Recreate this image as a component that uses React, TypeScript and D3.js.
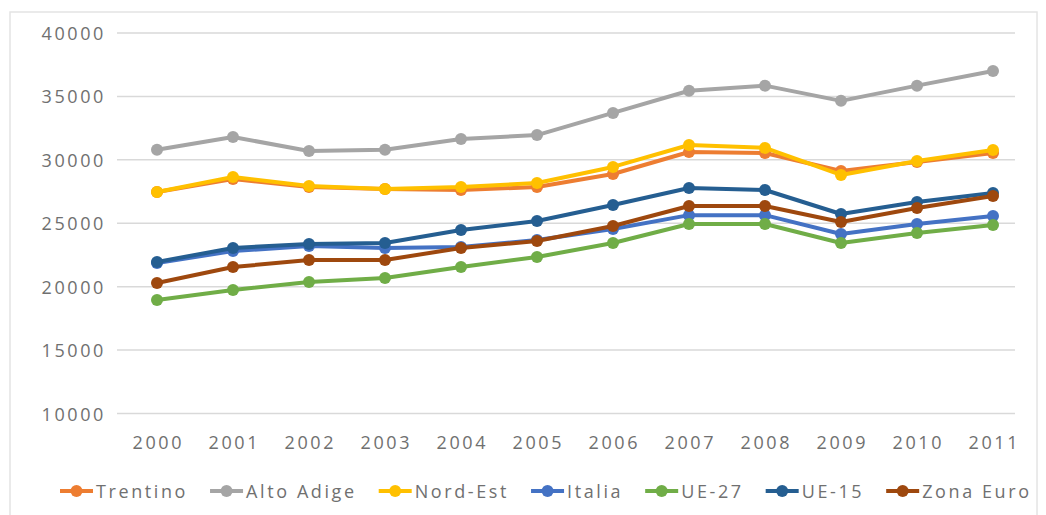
import React from "react";
import * as d3 from "d3";

const years = ["2000","2001","2002","2003","2004","2005","2006","2007","2008","2009","2010","2011"];
const yTicks = [10000, 15000, 20000, 25000, 30000, 35000, 40000];

const trentino = [27470, 28490, 27860, 27700, 27620, 27860, 28880, 30620, 30540, 29120, 29830, 30540];
const altoAdige = [30800, 31800, 30700, 30800, 31650, 31950, 33700, 35450, 35850, 34650, 35850, 37000];
const nordEst = [27470, 28650, 27940, 27700, 27860, 28170, 29440, 31170, 30940, 28810, 29910, 30780];
const italia = [21870, 22810, 23210, 23050, 23130, 23680, 24540, 25640, 25640, 24150, 24940, 25570];
const ue27 = [18950, 19740, 20370, 20680, 21550, 22340, 23440, 24940, 24940, 23440, 24230, 24860];
const ue15 = [21950, 23050, 23370, 23440, 24470, 25180, 26440, 27780, 27620, 25730, 26680, 27390];
const zonaEuro = [20290, 21550, 22100, 22100, 23050, 23600, 24780, 26360, 26360, 25100, 26200, 27150];

const seriesNames = ["Trentino", "Alto Adige", "Nord-Est", "Italia", "UE-27", "UE-15", "Zona Euro"];
const seriesValues = [trentino, altoAdige, nordEst, italia, ue27, ue15, zonaEuro];
const seriesColors = ["#ED7D31", "#A5A5A5", "#FFC000", "#4472C4", "#70AD47", "#255E91", "#9E480E"];

const W = 1046;
const H = 515;
const FONT = "Open Sans, DejaVu Sans, sans-serif";
const FS = 18;
const LS = 2.6;
const TEXT_COLOR = "#707070";

function measure(text: string): number {
  if (typeof document === "undefined") return text.length * 12;
  const c = document.createElement("canvas");
  const ctx = c.getContext("2d");
  if (!ctx) return text.length * 12;
  ctx.font = `${FS}px "Open Sans"`;
  return ctx.measureText(text).width + LS * text.length;
}

export default function App() {
  const x = d3.scalePoint<string>().domain(years).range([157, 993]);
  const y = d3.scaleLinear().domain([10000, 40000]).range([413.5, 33]);
  const gridX0 = 117;
  const gridX1 = 1015;
  const line = d3.line<number>().x((_, i) => x(years[i]) as number).y((d) => y(d));

  let cursor = 60;
  const legendY = 491;
  const legendItems = seriesNames.map((name, i) => {
    const lx0 = cursor;
    const lx1 = cursor + 33;
    const tx = lx1 + 3;
    const tw = measure(name);
    cursor = tx + tw + 22;
    return { name, color: seriesColors[i], lx0, lx1, tx };
  });

  return (
    <div style={{ position: "absolute", left: 0, top: 0 }}>
      <svg width={W} height={H} style={{ display: "block", background: "#fff" }}>
        <rect x={10} y={12} width={1027} height={510} fill="#fff" stroke="#e4e4e4" strokeWidth={1.5} />
        {yTicks.map((t) => (
          <g key={t}>
            <line x1={gridX0} x2={gridX1} y1={y(t)} y2={y(t)} stroke="#d9d9d9" strokeWidth={1.5} />
            <text
              x={106}
              y={y(t)}
              textAnchor="end"
              dominantBaseline="central"
              fontFamily={FONT}
              fontSize={FS}
              letterSpacing={LS}
              fill={TEXT_COLOR}
            >
              {t}
            </text>
          </g>
        ))}
        {years.map((yr) => (
          <text
            key={yr}
            x={(x(yr) as number) + LS / 2}
            y={442}
            textAnchor="middle"
            dominantBaseline="central"
            fontFamily={FONT}
            fontSize={FS}
            letterSpacing={LS}
            fill={TEXT_COLOR}
          >
            {yr}
          </text>
        ))}
        {seriesValues.map((vals, si) => (
          <g key={seriesNames[si]}>
            <path d={line(vals) || ""} fill="none" stroke={seriesColors[si]} strokeWidth={4} strokeLinejoin="round" />
            {vals.map((v, i) => (
              <circle key={i} cx={x(years[i])} cy={y(v)} r={6} fill={seriesColors[si]} />
            ))}
          </g>
        ))}
        {legendItems.map((it) => (
          <g key={it.name}>
            <line x1={it.lx0} x2={it.lx1} y1={legendY} y2={legendY} stroke={it.color} strokeWidth={4} />
            <circle cx={(it.lx0 + it.lx1) / 2} cy={legendY} r={6} fill={it.color} />
            <text
              x={it.tx}
              y={legendY}
              dominantBaseline="central"
              fontFamily={FONT}
              fontSize={FS}
              letterSpacing={LS}
              fill={TEXT_COLOR}
            >
              {it.name}
            </text>
          </g>
        ))}
      </svg>
    </div>
  );
}
